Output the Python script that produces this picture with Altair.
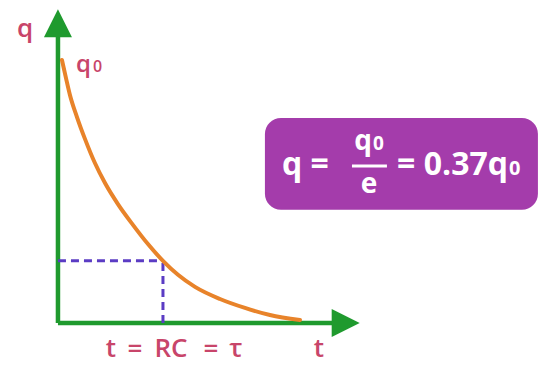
import altair as alt
import pandas as pd

# Capacitor discharge: time in units of tau (= RC), charge in units of q0
t_vals = [0.038, 0.076, 0.114, 0.181, 0.257, 0.352, 0.448, 0.571, 0.714,
          0.857, 1.0, 1.143, 1.305, 1.543, 1.781, 2.019, 2.305]
q_vals = [1.0, 0.932, 0.867, 0.783, 0.700, 0.608, 0.532, 0.452, 0.373,
          0.300, 0.236, 0.183, 0.137, 0.091, 0.057, 0.030, 0.011]
tau = 1.0
q_at_tau = q_vals[t_vals.index(tau)]

GREEN = "#1F9A2E"
ORANGE = "#E8832A"
DASH = "#5B3CC4"
PINK = "#C8456A"
BOX = "#A43CAB"
FONT = "Open Sans"

xs = alt.Scale(domain=[-0.552, 4.686], nice=False, zero=False)
ys = alt.Scale(domain=[-0.179, 1.228], nice=False, zero=False)


def X(field="t"):
    return alt.X(f"{field}:Q", scale=xs, axis=None)


def Y(field="q"):
    return alt.Y(f"{field}:Q", scale=ys, axis=None)


# axes with arrow heads
t_axis_end = 2.74
q_axis_end = 1.14
axes = alt.Chart(pd.DataFrame({
    "t": [0.0, 0.0], "t2": [0.0, t_axis_end],
    "q": [0.0, 0.0], "q2": [q_axis_end, 0.0],
})).mark_rule(color=GREEN, strokeWidth=4.5).encode(
    x=X(), x2="t2:Q", y=Y(), y2="q2:Q")

head_up = alt.Chart(pd.DataFrame({"t": [0.0], "q": [q_axis_end]})).mark_point(
    shape="M0,-1L1,1L-1,1Z", filled=True, size=784, color=GREEN, opacity=1
).encode(x=X(), y=Y())
head_right = alt.Chart(pd.DataFrame({"t": [t_axis_end], "q": [0.0]})).mark_point(
    shape="M1,0L-1,1L-1,-1Z", filled=True, size=784, color=GREEN, opacity=1
).encode(x=X(), y=Y())

# dashed guides at t = tau
guides = alt.Chart(pd.DataFrame({
    "t": [0.0, tau], "t2": [tau, tau],
    "q": [q_at_tau, 0.0], "q2": [q_at_tau, q_at_tau],
})).mark_rule(color=DASH, strokeWidth=3, strokeDash=[8, 5]).encode(
    x=X(), x2="t2:Q", y=Y(), y2="q2:Q")

curve = alt.Chart(pd.DataFrame({"t": t_vals, "q": q_vals})).mark_line(
    color=ORANGE, strokeWidth=4, interpolate="monotone", strokeCap="round"
).encode(x=X(), y=Y(), order="t:Q")


def label(t, q, text, size, color=PINK, align="left", weight=600):
    return alt.Chart(pd.DataFrame({"t": [t], "q": [q], "s": [text]})).mark_text(
        font=FONT, fontSize=size, fontWeight=weight, color=color,
        align=align, baseline="alphabetic"
    ).encode(x=X(), y=Y(), text="s:N")


# "t = RC = τ" set piece by piece for wide spacing
tau_pieces = ["t", "=", "RC", "=", "τ"]
tau_piece_t = [0.505, 0.733, 1.076, 1.457, 1.695]
tau_label = alt.Chart(pd.DataFrame({
    "t": tau_piece_t, "q": [-0.129] * len(tau_pieces), "s": tau_pieces
})).mark_text(
    font=FONT, fontSize=26, fontWeight=600, color=PINK,
    align="center", baseline="alphabetic"
).encode(x=X(), y=Y(), text="s:N")

# formula box
box = alt.Chart(pd.DataFrame({
    "t": [1.971], "t2": [4.571], "q": [0.430], "q2": [0.779]
})).mark_rect(color=BOX, cornerRadius=16).encode(
    x=X(), x2="t2:Q", y=Y(), y2="q2:Q")
frac_bar = alt.Chart(pd.DataFrame({
    "t": [2.80], "t2": [3.133], "q": [0.597], "q2": [0.597]
})).mark_rule(color="white", strokeWidth=3).encode(
    x=X(), x2="t2:Q", y=Y(), y2="q2:Q")

W = "white"
layers = [
    axes, head_up, head_right, guides, curve,
    label(-0.314, 1.087, "q", 26, align="center"),
    label(0.171, 0.954, "q", 24),
    label(0.333, 0.954, "0", 16),
    tau_label,
    label(2.486, -0.129, "t", 26, align="center"),
    box,
    label(2.133, 0.563, "q =", 32, color=W, weight="bold"),
    label(2.990, 0.658, "q", 28, color=W, align="right", weight="bold"),
    label(3.0, 0.658, "0", 19, color=W, weight="bold"),
    frac_bar,
    label(2.962, 0.494, "e", 28, color=W, align="center", weight="bold"),
    label(4.286, 0.563, "= 0.37q", 32, color=W, align="right", weight="bold"),
    label(4.295, 0.563, "0", 20, color=W, weight="bold"),
]

chart = alt.layer(*layers).properties(
    width=550, height=370, padding=0,
    autosize=alt.AutoSizeParams(type="none"), background="white"
).configure_view(stroke=None)

chart.save("out.html", embed_options={"renderer": "svg", "actions": False})
